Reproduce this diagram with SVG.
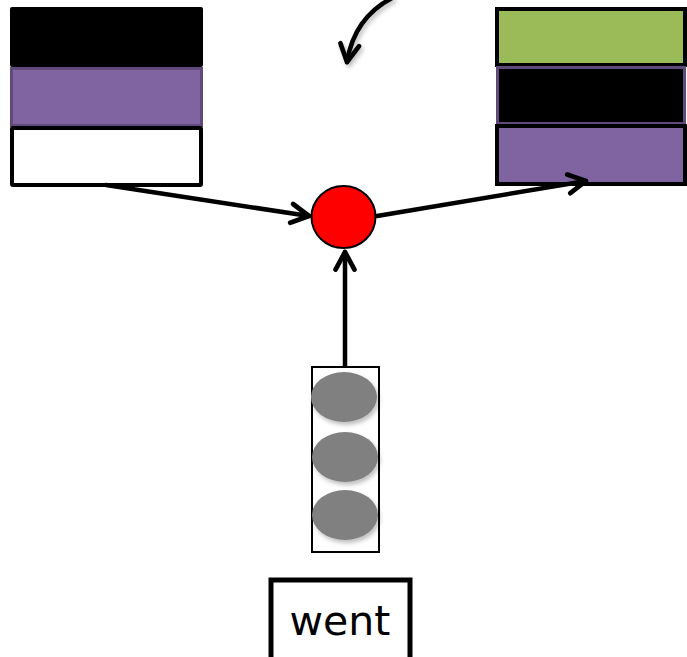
<svg xmlns="http://www.w3.org/2000/svg" width="687" height="657" viewBox="0 0 687 657">
<style>
.conn{fill:none;stroke:#000;stroke-width:4.5;stroke-linecap:round}
.cell-k{stroke:#000;stroke-width:4}
.cell-p{stroke:#5f4a7b;stroke-width:3}
.dot{fill:#808080}
.lbl{font-family:"DejaVu Sans",sans-serif;font-size:41px;fill:#000}
</style>
<defs>
<filter id="sh" x="-30%" y="-30%" width="160%" height="160%">
<feDropShadow dx="2" dy="3" stdDeviation="2" flood-color="#000" flood-opacity="0.25"/>
</filter>
<marker id="ah" viewBox="0 0 20 20" refX="17" refY="10" markerWidth="6" markerHeight="6" markerUnits="strokeWidth" orient="auto">
<path d="M4 3 L17 10 L4 17" fill="none" stroke="#000" stroke-width="3.5" stroke-linecap="round" stroke-linejoin="round"/>
</marker>
</defs>
<g id="left-stack">
<rect x="10" y="7" width="193" height="60" rx="2" fill="#000"/>
<rect x="11.5" y="68.5" width="190" height="57" fill="#8064a2" class="cell-p"/>
<rect x="12" y="128" width="189" height="57" rx="1" fill="#fff" class="cell-k"/>
</g>
<g id="right-stack">
<rect x="497" y="9" width="188" height="56" fill="#9bbb59" class="cell-k"/>
<rect x="497.5" y="67.5" width="187" height="56" fill="#000" class="cell-p"/>
<rect x="497" y="126" width="188" height="58" fill="#8064a2" class="cell-k"/>
</g>
<g id="connectors">
<path class="conn" d="M392 -2 Q354 18 347 62" marker-end="url(#ah)" filter="url(#sh)"/>
<path class="conn" d="M106 185 L309 216" marker-end="url(#ah)"/>
<path class="conn" d="M377 216 L586 181" marker-end="url(#ah)"/>
<path class="conn" d="M345 368 L345 252" marker-end="url(#ah)"/>
</g>
<g id="red-node">
<ellipse cx="343.5" cy="217" rx="32" ry="31" fill="#ff0000" stroke="#000" stroke-width="2"/>
</g>
<g id="column">
<rect x="312" y="367" width="67" height="185" fill="#fff" stroke="#000" stroke-width="2"/>
<g filter="url(#sh)">
<ellipse class="dot" cx="344" cy="397" rx="33" ry="25"/>
<ellipse class="dot" cx="345" cy="457" rx="33" ry="25"/>
<ellipse class="dot" cx="345" cy="515" rx="33" ry="25"/>
</g>
</g>
<g id="word">
<rect x="271" y="580" width="139" height="90" fill="#fff" stroke="#000" stroke-width="5"/>
<text class="lbl" x="340" y="635" text-anchor="middle">went</text>
</g>
</svg>
